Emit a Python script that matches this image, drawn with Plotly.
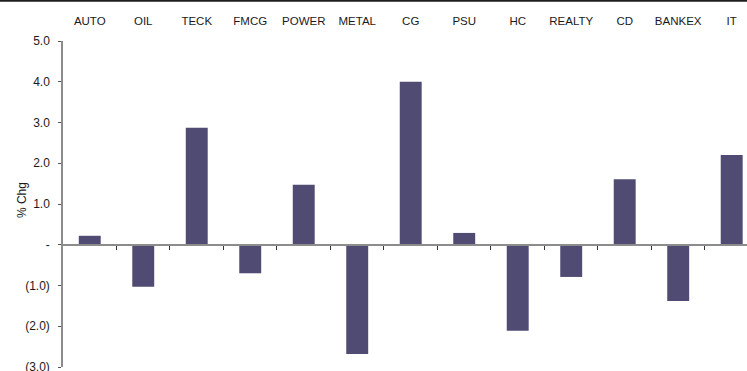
import plotly.graph_objects as go

# Sector returns, % change
sectors = ["AUTO", "OIL", "TECK", "FMCG", "POWER", "METAL", "CG",
           "PSU", "HC", "REALTY", "CD", "BANKEX", "IT"]
pct_chg = [0.22, -1.03, 2.87, -0.70, 1.47, -2.68, 4.00,
           0.29, -2.11, -0.79, 1.61, -1.38, 2.20]

y_ticks = [5, 4, 3, 2, 1, 0, -1, -2, -3]
y_tick_text = ["5.0", "4.0", "3.0", "2.0", "1.0", "-", "(1.0)", "(2.0)", "(3.0)"]

BAR = "#4f4b72"
AXIS_GREY = "#8c8c8c"
TEXT = "#1a1a1a"
FONT = "Liberation Sans, Arial, sans-serif"

n = len(sectors)
x_range = [-0.5, n - 0.714]          # last category runs past the right edge
y_range = [-3, 5]
zero_frac = (0 - y_range[0]) / (y_range[1] - y_range[0])

fig = go.Figure()
fig.add_trace(go.Bar(
    x=sectors, y=pct_chg,
    marker=dict(color=BAR, line=dict(width=0)),
    width=0.41,
    hoverinfo="x+y",
))

fig.update_layout(
    width=747, height=371,
    margin=dict(l=63, r=0, t=41, b=4, autoexpand=False),
    paper_bgcolor="white", plot_bgcolor="white",
    font=dict(family=FONT, size=12, color=TEXT),
    showlegend=False,
    # category names printed along the top of the plot
    xaxis=dict(
        type="category", side="top", range=x_range, automargin=False,
        showline=False, showgrid=False, zeroline=False,
        ticks="outside", ticklen=10, tickcolor="rgba(0,0,0,0)",
        tickfont=dict(size=11.5, color=TEXT),
    ),
    # zero line with boundary ticks between categories
    xaxis2=dict(
        overlaying="x", anchor="free", position=zero_frac,
        range=x_range, type="linear", automargin=False,
        tickvals=[i + 0.5 for i in range(n - 1)],
        showticklabels=False,
        showline=True, linecolor=AXIS_GREY, linewidth=2,
        ticks="outside", ticklen=4, tickwidth=1, tickcolor="#333333",
        showgrid=False, zeroline=False,
    ),
    yaxis=dict(
        range=y_range, tickvals=y_ticks, ticktext=y_tick_text,
        automargin=False,
        showline=True, linecolor=AXIS_GREY, linewidth=1.5,
        ticks="outside", ticklen=3, tickcolor="#555555", tickwidth=1,
        ticklabelstandoff=6, ticklabeloverflow="allow",
        showgrid=False, zeroline=False,
        tickfont=dict(size=12, color=TEXT),
    ),
    annotations=[dict(
        text="% Chg", xref="paper", yref="paper",
        x=-0.0599, y=0.512, xanchor="center", yanchor="middle",
        textangle=-90, showarrow=False,
        font=dict(size=12, color=TEXT),
    )],
    shapes=[dict(
        type="line", xref="paper", yref="paper",
        x0=-0.1, x1=1.0, y0=1.1235, y1=1.1235,
        line=dict(color="#1e1e1e", width=2),
    )],
)

# invisible trace so the overlaid zero-line axis is drawn
fig.add_trace(go.Scatter(x=[0], y=[0], xaxis="x2", mode="markers",
                         marker=dict(opacity=0), hoverinfo="skip"))

fig.write_html("out.html")
